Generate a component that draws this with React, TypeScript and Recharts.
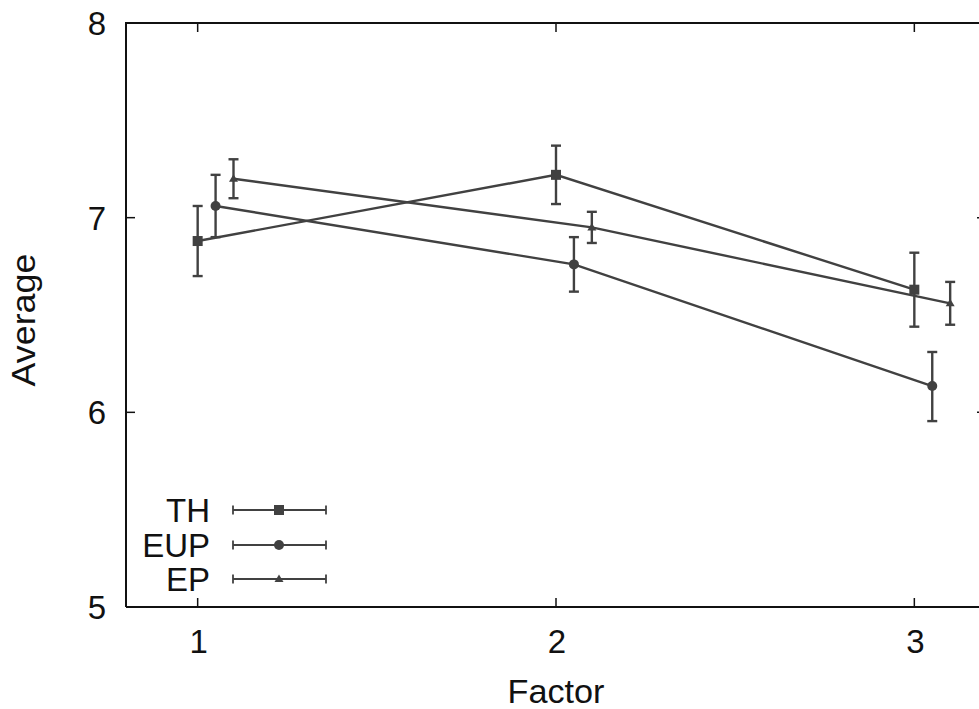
import React from 'react';
import { ComposedChart, Line, XAxis, YAxis, ErrorBar, Legend } from 'recharts';

// factor levels and the small horizontal shift gnuplot used per series
const factors = [1, 2, 3];
const seriesNames = ['TH', 'EUP', 'EP'];
const xShift = [0, 0.05, 0.1];

const thMean = [6.88, 7.22, 6.63];
const thLow = [6.7, 7.07, 6.44];
const thHigh = [7.06, 7.37, 6.82];

const eupMean = [7.06, 6.76, 6.135];
const eupLow = [6.9, 6.62, 5.955];
const eupHigh = [7.22, 6.9, 6.31];

const epMean = [7.2, 6.95, 6.56];
const epLow = [7.1, 6.87, 6.45];
const epHigh = [7.3, 7.03, 6.67];

const xTicks = [1, 2, 3];
const yTicks = [5, 6, 7, 8];
const xDomain: [number, number] = [0.8, 3.2];
const yDomain: [number, number] = [5, 8];

// chart box
const CHART_W = 1000;
const CHART_H = 709;
const MARGIN = { top: 23, right: 13, bottom: 0, left: 0 };
const Y_AXIS_W = 126;
const RIGHT_AXIS_W = 1;
const X_AXIS_H = 102;
const PLOT_W = CHART_W - MARGIN.left - MARGIN.right - Y_AXIS_W - RIGHT_AXIS_W;
const PLOT_H = CHART_H - MARGIN.top - MARGIN.bottom - X_AXIS_H;

const FONT = '"Liberation Sans", Arial, Helvetica, sans-serif';
const FS = 33;
const INK = '#111';
const SERIES = '#414141';

interface Row {
  x: number;
  y: number;
  err: [number, number];
}

function buildRows(mean: number[], low: number[], high: number[], shift: number): Row[] {
  return factors.map((f, i) => ({
    x: f + shift,
    y: mean[i],
    err: [mean[i] - low[i], high[i] - mean[i]],
  }));
}

const thRows = buildRows(thMean, thLow, thHigh, xShift[0]);
const eupRows = buildRows(eupMean, eupLow, eupHigh, xShift[1]);
const epRows = buildRows(epMean, epLow, epHigh, xShift[2]);

type Shape = 'square' | 'circle' | 'triangle';
const shapes: Shape[] = ['square', 'circle', 'triangle'];

function Marker({ cx, cy, shape }: { cx: number; cy: number; shape: Shape }) {
  if (shape === 'square') return <rect x={cx - 5} y={cy - 5} width={10} height={10} fill={SERIES} />;
  if (shape === 'circle') return <circle cx={cx} cy={cy} r={5} fill={SERIES} />;
  return <polygon points={`${cx},${cy - 4.5} ${cx + 4.5},${cy + 3} ${cx - 4.5},${cy + 3}`} fill={SERIES} />;
}

const makeDot = (shape: Shape, name: string) => (props: any) => {
  if (props.cx == null || props.cy == null) return <g key={`${name}-${props.index}`} />;
  return (
    <g key={`${name}-${props.index}`}>
      <Marker cx={props.cx} cy={props.cy} shape={shape} />
    </g>
  );
};

// bottom tick: inward tick, label, plus the mirrored tick on the top border
const BottomTick = ({ x, y, payload }: any) => (
  <g>
    <line x1={x} x2={x} y1={y} y2={y - 9} stroke={INK} strokeWidth={1.5} />
    <line x1={x} x2={x} y1={y - PLOT_H} y2={y - PLOT_H + 9} stroke={INK} strokeWidth={1.5} />
    <text x={x + 1} y={y + 46} textAnchor="middle" fontSize={FS} fontFamily={FONT} fill={INK}>
      {payload.value}
    </text>
  </g>
);

// left tick: inward tick and label; the top value also carries the top border of the frame
const LeftTick = ({ x, y, payload }: any) => (
  <g>
    <line x1={x} x2={x + 9} y1={y} y2={y} stroke={INK} strokeWidth={1.5} />
    {payload.value === yDomain[1] && <line x1={x - 1} x2={x + PLOT_W + 1} y1={y} y2={y} stroke={INK} strokeWidth={2} />}
    <text x={x - 20} y={y + 12} textAnchor="end" fontSize={FS} fontFamily={FONT} fill={INK}>
      {payload.value}
    </text>
  </g>
);

const RightTick = ({ x, y }: any) => <line x1={x} x2={x - 9} y1={y} y2={y} stroke={INK} strokeWidth={1.5} />;

function LegendBox() {
  const rowY = [20, 55, 89];
  return (
    <svg width={240} height={110} style={{ display: 'block', overflow: 'visible' }}>
      {seriesNames.map((name, i) => (
        <g key={name}>
          <text x={110} y={rowY[i] + 12} textAnchor="end" fontSize={FS} fontFamily={FONT} fill={INK}>
            {name}
          </text>
          <line x1={133} x2={226} y1={rowY[i]} y2={rowY[i]} stroke={SERIES} strokeWidth={1.8} />
          <line x1={133} x2={133} y1={rowY[i] - 4.5} y2={rowY[i] + 4.5} stroke={SERIES} strokeWidth={1.8} />
          <line x1={226} x2={226} y1={rowY[i] - 4.5} y2={rowY[i] + 4.5} stroke={SERIES} strokeWidth={1.8} />
          <Marker cx={179} cy={rowY[i]} shape={shapes[i]} />
        </g>
      ))}
    </svg>
  );
}

export default function App() {
  const series = [
    { name: seriesNames[0], rows: thRows, shape: shapes[0] },
    { name: seriesNames[1], rows: eupRows, shape: shapes[1] },
    { name: seriesNames[2], rows: epRows, shape: shapes[2] },
  ];

  return (
    <div style={{ position: 'fixed', left: 0, top: 0, width: 979, height: 709, overflow: 'hidden', background: '#fff' }}>
      <ComposedChart width={CHART_W} height={CHART_H} margin={MARGIN}>
        <XAxis
          xAxisId="bottom"
          dataKey="x"
          type="number"
          domain={xDomain}
          ticks={xTicks}
          allowDataOverflow
          height={X_AXIS_H}
          tickSize={0}
          tickMargin={0}
          tickLine={false}
          tick={<BottomTick />}
          axisLine={{ stroke: INK, strokeWidth: 2 }}
          label={(p: any) => {
            const vb = p.viewBox;
            return (
              <text
                x={vb.x + vb.width / 2}
                y={703}
                textAnchor="middle"
                fontSize={FS}
                fontFamily={FONT}
                fill={INK}
                textLength={97}
                lengthAdjust="spacingAndGlyphs"
              >
                Factor
              </text>
            );
          }}
        />
        <YAxis
          yAxisId="left"
          type="number"
          domain={yDomain}
          ticks={yTicks}
          allowDataOverflow
          width={Y_AXIS_W}
          tickSize={0}
          tickMargin={0}
          tickLine={false}
          tick={<LeftTick />}
          axisLine={{ stroke: INK, strokeWidth: 2 }}
          label={() => (
            <text
              x={35}
              y={320}
              transform="rotate(-90, 35, 320)"
              textAnchor="middle"
              fontSize={FS}
              fontFamily={FONT}
              fill={INK}
              textLength={133}
              lengthAdjust="spacingAndGlyphs"
            >
              Average
            </text>
          )}
        />
        <YAxis
          yAxisId="right"
          orientation="right"
          type="number"
          domain={yDomain}
          ticks={yTicks}
          allowDataOverflow
          width={RIGHT_AXIS_W}
          tickSize={0}
          tickMargin={0}
          tickLine={false}
          tick={<RightTick />}
          axisLine={{ stroke: INK, strokeWidth: 2 }}
        />
        {series.map((s) => (
          <Line
            key={s.name}
            name={s.name}
            data={s.rows}
            dataKey="y"
            xAxisId="bottom"
            yAxisId="left"
            type="linear"
            stroke={SERIES}
            strokeWidth={2.4}
            dot={makeDot(s.shape, s.name)}
            activeDot={false}
            isAnimationActive={false}
          >
            <ErrorBar dataKey="err" direction="y" width={5} stroke={SERIES} strokeWidth={2.4} isAnimationActive={false} />
          </Line>
        ))}
        <Legend
          layout="vertical"
          align="center"
          verticalAlign="middle"
          wrapperStyle={{ left: 100, top: 490, width: 240, height: 110 }}
          content={() => <LegendBox />}
        />
      </ComposedChart>
      {/* top edge of the plot frame */}
      <div
        style={{
          position: 'absolute',
          left: MARGIN.left + Y_AXIS_W - 1,
          top: MARGIN.top - 1,
          width: PLOT_W + 2,
          height: 2,
          background: INK,
          pointerEvents: 'none',
        }}
      />
    </div>
  );
}
